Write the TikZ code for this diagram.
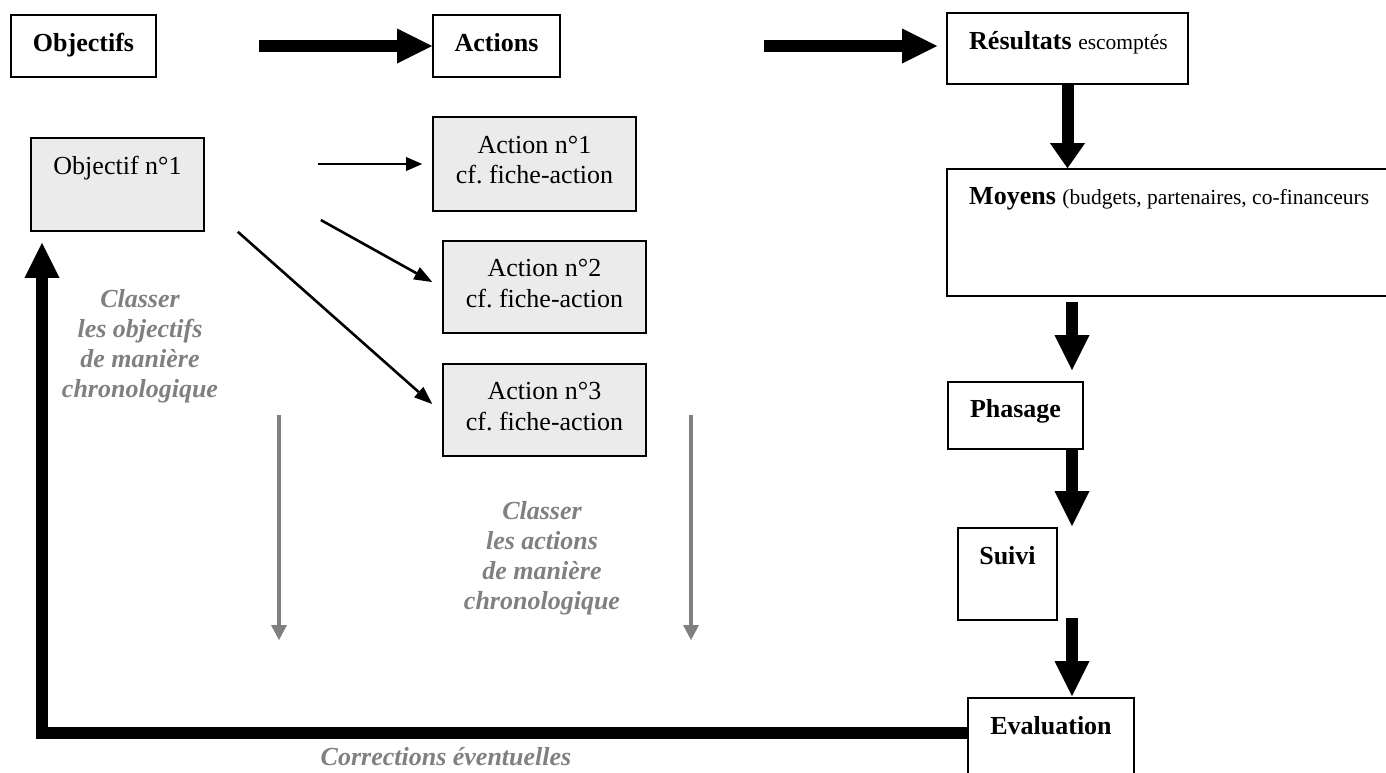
\documentclass[tikz,border=0pt]{standalone}
\usepackage{fontspec}
\setmainfont{Liberation Serif}
\usetikzlibrary{arrows.meta}
\definecolor{boxfill}{RGB}{235,235,235}
\definecolor{softgray}{RGB}{128,128,128}
\newcommand{\fsbig}{\fontsize{26}{31}\selectfont}
\newcommand{\fssmall}{\fontsize{21.5}{26}\selectfont}
\begin{document}
\begin{tikzpicture}[x=1pt,y=-1pt,
  box/.style={draw=black,line width=1.6pt,inner sep=0pt,fill=white},
  gbox/.style={box,fill=boxfill},
  txt/.style={inner sep=0pt,anchor=base,font=\fsbig},
  btxt/.style={txt,font=\fsbig\bfseries},
  gtxt/.style={txt,text=softgray,font=\fsbig\bfseries\itshape},
  bigarrow/.style={line width=12pt,line join=miter,-{Triangle[length=35pt,width=35pt,line width=0pt]}},
  shortarrow/.style={line width=12pt,-{Triangle[length=25pt,width=35pt,line width=0pt]}},
  midarrow/.style={line width=2.6pt,-{Triangle[length=18pt,width=14pt,line width=0pt]}},
  thinarrow/.style={line width=1.3pt,-{Triangle[length=16pt,width=14pt,line width=0pt]}},
  grayarrow/.style={draw=softgray,line width=3.3pt,-{Triangle[length=15pt,width=16pt,line width=0pt]}},
]
\useasboundingbox (0,0) rectangle (1386,772);

% boxes
\node[box,minimum width=145pt,minimum height=62pt] (obj) at (83.5,46) {};
\node[box,minimum width=127pt,minimum height=62pt] (act) at (496.5,46) {};
\node[box,minimum width=241pt,minimum height=71pt] (res) at (1067.5,48.5) {};
\node[box,minimum width=473pt,minimum height=127pt] (moy) at (1183.5,232.5) {};
\node[gbox,minimum width=173pt,minimum height=93pt] (obj1) at (117.5,184.5) {};
\node[gbox,minimum width=203pt,minimum height=94pt] (a1) at (534.5,164) {};
\node[gbox,minimum width=203pt,minimum height=92pt] (a2) at (544.5,287) {};
\node[gbox,minimum width=203pt,minimum height=92pt] (a3) at (544.5,410) {};
\node[box,minimum width=135pt,minimum height=67pt] (pha) at (1015.5,415.5) {};
\node[box,minimum width=99pt,minimum height=92pt] (sui) at (1007.5,574) {};
\node[box,minimum width=166pt,minimum height=102pt] (eva) at (1051,749) {};

% texts
\node[btxt] (tobj) at (83.5,51.5) {Objectifs};
\node[btxt] (tact) at (496.5,51.5) {Actions};
\node[txt,anchor=base west] (tres) at (969,49) {\textbf{Résultats} {\fssmall escomptés}};
\node[txt,anchor=base west] (tmoy) at (969,204) {\textbf{Moyens} {\fssmall (budgets, partenaires, co-financeurs}};
\node[txt] (tobj1) at (117.5,174.5) {Objectif n°1};
\node[txt] (ta1a) at (534.5,153) {Action n°1};
\node[txt] (ta1b) at (534.5,183) {cf.\ fiche-action};
\node[txt] (ta2a) at (544.5,276) {Action n°2};
\node[txt] (ta2b) at (544.5,307) {cf.\ fiche-action};
\node[txt] (ta3a) at (544.5,399) {Action n°3};
\node[txt] (ta3b) at (544.5,430) {cf.\ fiche-action};
\node[btxt] (tpha) at (1015.5,417) {Phasage};
\node[btxt] (tsui) at (1007.5,564) {Suivi};
\node[btxt] (teva) at (1051,734) {Evaluation};

\node[gtxt] (c1a) at (140,307) {Classer};
\node[gtxt] (c1b) at (140,337) {les objectifs};
\node[gtxt] (c1c) at (140,367) {de manière};
\node[gtxt] (c1d) at (140,397) {chronologique};
\node[gtxt] (c2a) at (542,519) {Classer};
\node[gtxt] (c2b) at (542,549) {les actions};
\node[gtxt] (c2c) at (542,579) {de manière};
\node[gtxt] (c2d) at (542,609) {chronologique};
\node[gtxt] (corr) at (446,765) {Corrections éventuelles};

% connectors
\coordinate (colx) at (1072,0);
\coordinate (fbc) at (42,733);
\coordinate (g1s) at (279,415);
\coordinate (g1e) at (279,640);
\coordinate (g2s) at (691,415);
\coordinate (g2e) at (691,640);

\draw[bigarrow] ([xshift=102pt]obj.east) -- (act.west);
\draw[bigarrow] ([xshift=203pt]act.east) -- ([xshift=-9pt]res.west |- act.east);
\draw[shortarrow] (res.south) -- (res.south |- moy.north);
\draw[bigarrow] ([yshift=-5pt]moy.south -| colx) -- ([yshift=11pt]pha.north -| colx);
\draw[bigarrow] ([yshift=2pt]pha.south -| colx) -- ([yshift=1pt]sui.north -| colx);
\draw[bigarrow] ([yshift=3pt]sui.south -| colx) -- ([yshift=1pt]eva.north -| colx);
\draw[bigarrow] ([yshift=16pt]eva.west) -- (fbc) -- ([yshift=-11pt]obj1.south -| fbc);

\draw[thinarrow] ([xshift=113pt]obj1.east |- a1.west) -- ([xshift=-10pt]a1.west);
\draw[midarrow] ([xshift=116pt,yshift=-35.5pt]obj1.east) -- ([xshift=-10pt,yshift=5pt]a2.west);
\draw[midarrow] ([xshift=33pt]obj1.south east) -- ([xshift=-10pt,yshift=6pt]a3.west);

\draw[grayarrow] (g1s) -- (g1e);
\draw[grayarrow] (g2s) -- (g2e);
\end{tikzpicture}
\end{document}
